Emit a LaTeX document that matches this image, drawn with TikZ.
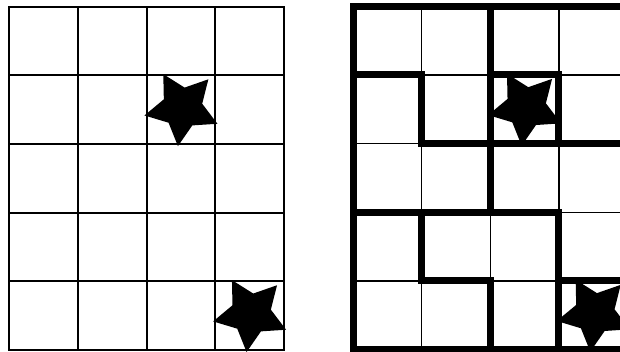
\documentclass[tikz,border=0pt]{standalone}
\tikzset{
  gridline/.style={line width=1.8pt, line cap=rect},
  thinline/.style={line width=1.5pt, line cap=rect},
  thickwall/.style={line width=7pt, line cap=rect, line join=miter},
  starpic/.pic={\fill[black] (119.5:38.6pt)
      \foreach \k in {0,...,4} { -- ({119.5-72*\k}:38.6pt) -- ({83.5-72*\k}:20.3pt) } -- cycle;}
}
\begin{document}
\begin{tikzpicture}[x=1pt,y=-1pt]
\useasboundingbox (0,0) rectangle (620,351);
\clip (0,0) rectangle (620,351);
\fill[white] (0,0) rectangle (620,351);
% left grid
\begin{scope}[xshift=9.3pt, yshift=-6.7pt, x=68.65pt, y=-68.65pt]
  \foreach \i in {0,...,4} \draw[gridline] (\i,0) -- (\i,5);
  \foreach \j in {0,...,5} \draw[gridline] (0,\j) -- (4,\j);
  \pic at (2.52,1.472) {starpic};
  \pic at (3.52,4.472) {starpic};
\end{scope}
% right grid
\begin{scope}[xshift=353pt, yshift=-6.3pt, x=68.65pt, y=-68.65pt]
  \foreach \i in {0,...,4} \draw[thinline] (\i,0) -- (\i,5);
  \foreach \j in {0,...,5} \draw[thinline] (0,\j) -- (4,\j);
  \pic at (2.52,1.472) {starpic};
  \pic at (3.52,4.472) {starpic};
  \draw[thickwall] (0,0) rectangle (4,5);
  \draw[thickwall] (2,0) -- (2,3);
  \draw[thickwall] (0,1) -- (1,1) -- (1,2) -- (4,2);
  \draw[thickwall] (2,1) -- (3,1) -- (3,2);
  \draw[thickwall] (0,3) -- (3,3) -- (3,5);
  \draw[thickwall] (1,3) -- (1,4) -- (2,4) -- (2,5);
  \draw[thickwall] (3,4) -- (4,4);
\end{scope}
\end{tikzpicture}
\end{document}
